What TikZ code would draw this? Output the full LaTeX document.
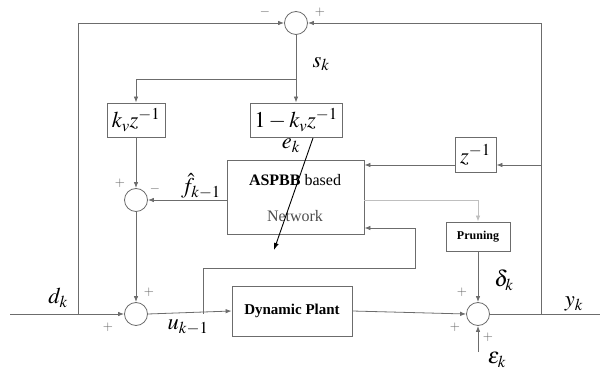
\documentclass[tikz,border=0pt]{standalone}
\usepackage{mathptmx}
\usepackage{fontspec}
\setmainfont{Liberation Serif}
\usetikzlibrary{arrows.meta}
\begin{document}
\begin{tikzpicture}[x=1pt,y=-1pt,
 line/.style={draw=gray!85!black, line width=0.8pt},
 arr/.style={line, -{Latex[length=6pt,width=4.5pt]}},
 sumc/.style={circle, draw=gray!85!black, line width=0.8pt, minimum size=23pt, inner sep=0pt},
 blk/.style={draw=gray!85!black, line width=0.8pt, inner sep=0pt},
 lab/.style={font=\fontsize{22.5}{24}\selectfont, inner sep=0pt},
 sgn/.style={font=\fontsize{13}{14}\selectfont, text=gray!80!black, inner sep=0pt}]
\useasboundingbox (0,0) rectangle (600,374);

% summing junctions
\node[sumc] (top) at (296,23) {};
\node[sumc] (mid) at (136,200) {};
\node[sumc] (bot) at (136,314) {};
\node[sumc] (rgt) at (478,314) {};

% blocks
\node[blk, minimum width=58pt, minimum height=34pt, lab] (kv) at (136,120) {$k_v z^{-1}$};
\node[blk, minimum width=92pt, minimum height=34pt, lab] (one) at (296,120) {$1-k_v z^{-1}$};
\node[blk, minimum width=137pt, minimum height=74pt] (net) at (295.5,197) {};
\node[font=\fontsize{16}{18}\selectfont, inner sep=0pt] (netA) at (295,180) {\textbf{ASPBB} based};
\node[font=\fontsize{16}{18}\selectfont, inner sep=0pt, text=gray!60!black] (netB) at (295,216) {Network};
\node[blk, minimum width=41pt, minimum height=35pt, lab] (zb) at (475.5,154.5) {$z^{-1}$};
\node[blk, minimum width=64pt, minimum height=29pt, font=\fontsize{12}{13}\selectfont\bfseries] (prun) at (478,236.5) {Pruning};
\node[blk, minimum width=120pt, minimum height=50pt, font=\fontsize{15}{17}\selectfont\bfseries] (plant) at (292,311) {Dynamic Plant};

% coordinates
\coordinate (IN) at (10,314);
\coordinate (L1) at (78,314);
\coordinate (L2) at (78,23);
\coordinate (R1) at (541,314);
\coordinate (R2) at (541,23);
\coordinate (R3) at (541,165);
\coordinate (S) at (296,79);
\coordinate (B1) at (203,314);
\coordinate (B2) at (203,268);
\coordinate (B3) at (415,268);
\coordinate (B4) at (415,228);
\coordinate (P1) at (478,200);
\coordinate (EPS) at (478,352);
\coordinate (OUT) at (600,314);
\coordinate (D1) at (313,138);
\coordinate (D2) at (274,250);

% connectors
\draw[arr] (L1) -- (L2) -- (top.west);
\draw[arr] (R1) -- (R2) -- (top.east);
\draw[arr] (top.south) -- (one.north);
\draw[arr] (S) -| (kv.north);
\draw[arr] (kv.south) -- (mid.north);
\draw[arr] (net.west |- mid) -- (mid.east);
\draw[arr] (mid.south) -- (bot.north);
\draw[arr] (IN) -- (bot.west);
\draw[arr] (bot.east) -- (plant.west);
\draw[arr] (B1) -- (B2) -- (B3) -- (B4) -- (net.east |- B4);
\draw[arr] (plant.east) -- (rgt.west);
\draw[line] (rgt.east) -- (OUT);
\draw[arr] (R3) -- (zb.east |- R3);
\draw[arr] (zb.west |- R3) -- (net.east |- R3);
\draw[arr, draw=gray!50] (net.east |- P1) -- (P1) -- (prun.north);
\draw[arr] (prun.south) -- (rgt.north);
\draw[arr] (EPS) -- (rgt.south);
\draw[black, line width=0.9pt, -{Latex[length=7pt,width=5pt]}] (D1) -- (D2);

% labels
\node[sgn] (m1) at (265,12) {$-$};
\node[sgn] (p1) at (320,12) {$+$};
\node[lab] (sk) at (321,64) {$s_k$};
\node[lab] (ek) at (291,146) {$e_k$};
\node[lab] (fk) at (201,186) {$\hat f_{k-1}$};
\node[sgn] (p2) at (120,183) {$+$};
\node[sgn] (m2) at (155,189) {$-$};
\node[sgn] (p3) at (149,292) {$+$};
\node[sgn] (p4) at (108,327) {$+$};
\node[lab] (dk) at (58,298) {$d_k$};
\node[lab] (uk) at (188,327) {$u_{k-1}$};
\node[lab] (dlt) at (504,280) {$\delta_k$};
\node[sgn] (p5) at (462,292) {$+$};
\node[sgn] (p6) at (455,327) {$+$};
\node[sgn] (p7) at (488,337) {$+$};
\node[lab] (epk) at (497,360) {$\varepsilon_k$};
\node[lab] (yk) at (574,304) {$y_k$};
\end{tikzpicture}
\end{document}
